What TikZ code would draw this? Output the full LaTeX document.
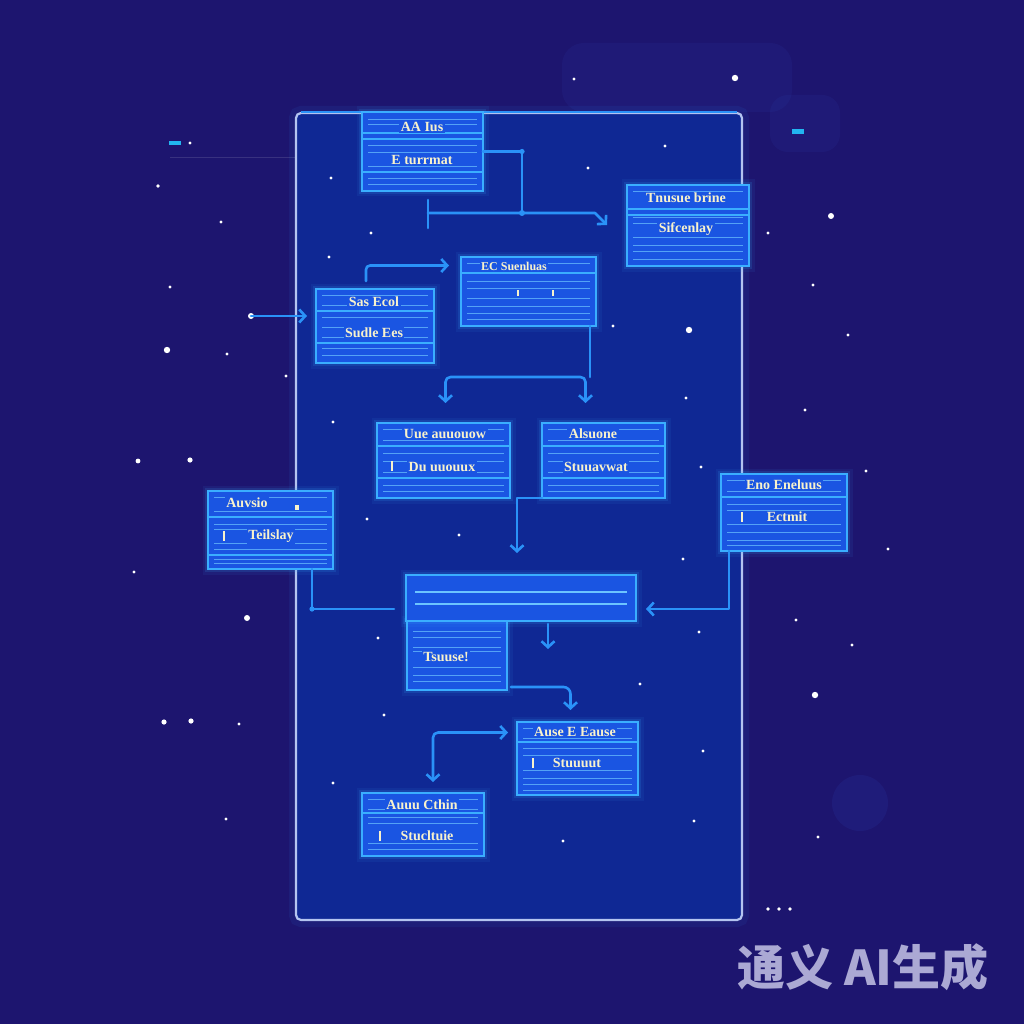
\documentclass[tikz,border=0pt]{standalone}
\usepackage{fontspec}
\setmainfont{Liberation Serif}
\newfontfamily\cjkfont{Noto Sans CJK SC}
\usetikzlibrary{calc,arrows.meta}
\definecolor{bgc}{HTML}{1D156F}
\definecolor{panelc}{HTML}{0F2894}
\definecolor{paneledge}{HTML}{B4C4F0}
\definecolor{boxc}{HTML}{1A55E2}
\definecolor{boxedge}{HTML}{3AAEFF}
\definecolor{stripec}{HTML}{6CC4FF}
\definecolor{connc}{HTML}{2A92F8}
\definecolor{txtc}{HTML}{F8F2CC}
\definecolor{wmc}{HTML}{ABA9D4}
\definecolor{dashc}{HTML}{22B5F0}
\definecolor{haze}{HTML}{2B3AA6}
\newcommand\stripes[2]{\foreach \yy in {#2}{\draw[stripe] ($(#1.north west)+(6,\yy)$) -- ($(#1.north east)+(-6,\yy)$);}}
\newcommand\divs[2]{\foreach \yy in {#2}{\draw[divline] ($(#1.north west)+(0,\yy)$) -- ($(#1.north east)+(0,\yy)$);}}
\begin{document}
\begin{tikzpicture}[x=1pt,y=-1pt,
 box/.style={draw=boxedge, fill=boxc, line width=2pt, inner sep=0pt, outer sep=0pt,
   preaction={draw=boxedge, line width=11pt, draw opacity=.07},
   preaction={draw=boxedge, line width=6pt, draw opacity=.14}},
 stripe/.style={draw=stripec, line width=.9pt, opacity=.7},
 divline/.style={draw=boxedge, line width=1.6pt},
 lbl/.style={text=txtc, fill=boxc, font=\bfseries\fontsize{14}{14}\selectfont, inner sep=1.5pt},
 conn/.style={draw=connc, line width=2.6pt, line cap=round, line join=round},
 tip/.style={-{Straight Barb[length=6pt,width=13pt]}},
 tipboth/.style={{Straight Barb[length=6pt,width=13pt]}-{Straight Barb[length=6pt,width=13pt]}},
]
% background
\fill[bgc] (0,0) rectangle (1024,1024);
\useasboundingbox (0,0) rectangle (1024,1024);
\fill[haze, opacity=.16, rounded corners=22pt] (562,43) rectangle (792,112);
\fill[haze, opacity=.16, rounded corners=18pt] (770,95) rectangle (840,152);
\fill[haze, opacity=.2] (860,803) circle (28);
\draw[white, opacity=.12, line width=.6pt] (170,157) -- (296,157);
\fill[dashc] (169,141) rectangle (181,145);
\fill[white] (190,143) circle (1.6);
\fill[dashc] (792,129) rectangle (804,134);

% panel
\node[draw=connc, line width=14pt, draw opacity=.08, minimum width=446pt, minimum height=807pt, rounded corners=5pt, inner sep=0pt] (panelglow) at (519,516.5) {};
\node[draw=paneledge, fill=panelc, line width=2.2pt, minimum width=446pt, minimum height=807pt, rounded corners=5pt, inner sep=0pt] (panel) at (519,516.5) {};
\draw[connc, line width=2.6pt] ($(panel.north west)+(6,0)$) -- ($(panel.north east)+(-6,0)$);

% stars
\foreach \x/\y/\r in {735/78/3.2,831/216/3,689/330/3.2,167/350/3.2,247/618/3,815/695/3.2,164/722/2.6,191/721/2.6,138/461/2.4,190/460/2.6,
 574/79/1.6,665/146/1.6,588/168/1.6,331/178/1.6,158/186/1.8,221/222/1.6,371/233/1.6,768/233/1.6,329/257/1.6,170/287/1.6,813/285/1.6,
 613/326/1.6,848/335/1.6,227/354/1.6,286/376/1.6,686/398/1.6,805/410/1.6,333/422/1.6,701/467/1.6,866/471/1.6,367/519/1.6,459/535/1.6,
 888/549/1.6,683/559/1.6,134/572/1.6,796/620/1.6,699/632/1.6,378/638/1.6,852/645/1.6,640/684/1.6,239/724/1.6,384/715/1.6,703/751/1.6,
 333/783/1.6,226/819/1.6,694/821/1.6,818/837/1.6,563/841/1.6,768/909/1.8,779/909/1.8,790/909/1.8}
 {\fill[white] (\x,\y) circle (\r);}

% boxes
\node[box, minimum width=121pt, minimum height=79pt] (A) at (422.5,151.5) {};
\node[box, minimum width=122pt, minimum height=81pt] (B) at (688,225.5) {};
\node[box, minimum width=135pt, minimum height=69pt] (C) at (528.5,291.5) {};
\node[box, minimum width=118pt, minimum height=74pt] (D) at (375,326) {};
\node[box, minimum width=133pt, minimum height=75pt] (E) at (443.5,460.5) {};
\node[box, minimum width=123pt, minimum height=75pt] (F) at (603.5,460.5) {};
\node[box, minimum width=125pt, minimum height=78pt] (G) at (270.5,530) {};
\node[box, minimum width=126pt, minimum height=77pt] (H) at (784,512.5) {};
\node[box, minimum width=100pt, minimum height=69pt] (J) at (457,655.5) {};
\node[box, minimum width=230pt, minimum height=46pt] (I) at (521,598) {};
\node[box, minimum width=121pt, minimum height=73pt] (K) at (577.5,758.5) {};
\node[box, minimum width=122pt, minimum height=63pt] (L) at (423,824.5) {};

% stripes and dividers
\stripes{A}{7,12,33,40,54,66,72}  \divs{A}{21,27,60}
\stripes{B}{6,32,38,52,60,66,74}  \divs{B}{24,30}
\stripes{C}{6,24,31,41,49,56,62}  \divs{C}{16}
\stripes{D}{6,16,28,38,48,59,66}  \divs{D}{22,54}
\stripes{E}{6,17,30,38,49,62,68}  \divs{E}{23,55}
\stripes{F}{6,17,30,38,49,62,68}  \divs{F}{23,55}
\stripes{G}{6,20,33,38,52,58,68,72} \divs{G}{26,64}
\stripes{H}{6,17,30,36,50,58,66,71} \divs{H}{23}
\stripes{J}{10,16,26,30,46,54,60}
\stripes{K}{6,16,26,33,48,56,62,68} \divs{K}{20}
\stripes{L}{6,16,24,30,50,56}       \divs{L}{20}
\draw[stripec, line width=2.4pt] ($(I.north west)+(9,17)$) -- ($(I.north east)+(-9,17)$);
\draw[stripec, line width=2.4pt] ($(I.north west)+(9,29)$) -- ($(I.north east)+(-9,29)$);

% labels
\node[lbl] (A1) at (422,127) {AA Ius};
\node[lbl] (A2) at (422,160) {E turrmat};
\node[lbl] (B1) at (686,198) {Tnusue brine};
\node[lbl] (B2) at (686,229) {Sifcenlay};
\node[lbl, font=\bfseries\fontsize{12}{12}\selectfont] (C1) at (514,266) {EC Suenluas};
\node[lbl] (D1) at (374,302) {Sas Ecol};
\node[lbl] (D2) at (374,333) {Sudle Ees};
\node[lbl] (E1) at (445,434) {Uue auuouow};
\node[lbl] (E2) at (442,467) {Du uuouux};
\node[lbl] (F1) at (593,434) {Alsuone};
\node[lbl] (F2) at (596,467) {Stuuavwat};
\node[lbl] (G1) at (247,503) {Auvsio};
\node[lbl] (G2) at (271,536) {Teilslay};
\node[lbl] (H1) at (784,485) {Eno Eneluus};
\node[lbl] (H2) at (787,517) {Ectmit};
\node[lbl] (J1) at (446,657) {Tsuuse!};
\node[lbl] (K1) at (575,732) {Ause E Eause};
\node[lbl] (K2) at (577,763) {Stuuuut};
\node[lbl] (L1) at (422,805) {Auuu Cthin};
\node[lbl] (L2) at (427,836) {Stucltuie};
% small marks
\draw[txtc, line width=1.2pt] (518,290) -- (518,296) (553,290) -- (553,296);
\fill[txtc] (295,505) rectangle (299,510);
\draw[txtc, line width=1.2pt] (224,531) -- (224,541) (742,512) -- (742,522) (533,758) -- (533,768) (380,831) -- (380,841) (392,461) -- (392,471);

% connectors
\coordinate (jA) at (522,213);
\coordinate (tA) at (428,213);
\coordinate (kA) at (595,213);
\coordinate (eB) at (607,225);
\draw[conn] (A.east) -| (jA);
\draw[conn] ($(tA)+(0,-13)$) -- ($(tA)+(0,15)$);
\draw[conn,tip] (tA) -- (kA) -- (eB);
\fill[connc] (jA) circle (3);
\fill[connc] (A.east -| jA) circle (2.6);

\draw[conn,tip,rounded corners=4pt] ($(D.north west)+(50,-8)$) |- ($(C.west)+(-12,-26)$);

\coordinate (s0) at (251,316);
\fill[white] (s0) circle (3);
\draw[conn,tip] (s0) -- ($(D.west)+(-9,-10)$);

\coordinate (cb) at ($(C.south east)+(-6,51)$);
\draw[conn] ($(C.south east)+(-6,0)$) -- (cb);
\draw[conn,tipboth,rounded corners=5pt] ($(E.north)+(2,-20)$) |- ($(F.north)+(-18,-46)$) -- ($(F.north)+(-18,-20)$);

\draw[conn,tip] (F.south west) -| ($(I.north)+(-4,-22)$);
\draw[conn] ($(G.south east)+(-21,0)$) |- ($(I.west)+(-12,11)$);
\fill[connc] ($(G.south east)+(-21,40)$) circle (2.6);
\draw[conn,tip] ($(H.south west)+(8,0)$) |- ($(I.east)+(10,11)$);
\draw[conn,tip] ($(I.south)+(27,3)$) -- ($(I.south)+(27,28)$);
\draw[conn,tip,rounded corners=7pt] ($(J.south east)+(4,-3)$) -| ($(K.north)+(-7,-12)$);
\draw[conn,tipboth,rounded corners=5pt] ($(L.north)+(10,-11)$) |- ($(K.west)+(-9,-26)$);

% watermark
\node[text=wmc, font=\cjkfont\bfseries\fontsize{48}{48}\selectfont, inner sep=0pt] (wm) at (863,967) {通义 AI生成};
\end{tikzpicture}
\end{document}
